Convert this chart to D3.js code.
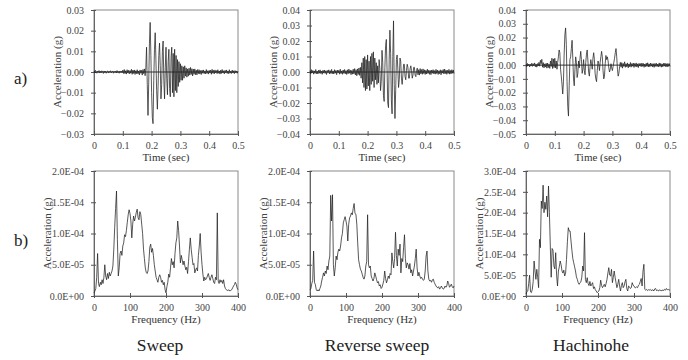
<!DOCTYPE html>
<html>
<head>
<meta charset="utf-8">
<script src="https://cdn.jsdelivr.net/npm/d3@7"></script>
<style>
  body { margin: 0; background: #fff; }
  svg { display: block; }
  svg text { font-family: "Liberation Serif", "Times New Roman", serif !important; }
</style>
</head>
<body>
<div id="chart"></div>
<script>
// sample spacing of the records
const timeStep = 0.0025; // s
const freqStep = 2.5;    // Hz

// a) acceleration time histories, in mg (0.001 g)
const sweepAcc = [
  0.5,-0.3,0.8,0.2,-0.6,0.4,-0.2,0.7,-0.5,0.3,
  -0.4,0.6,0.1,-0.7,0.5,-0.3,0.4,-0.6,0.2,0.5,
  -0.5,0.3,-0.2,0.6,-0.4,0.1,0.5,-0.6,0.3,-0.2,
  0.4,-0.5,0.7,-0.3,0.2,-0.6,0.5,-0.2,0.4,-0.4,
  0.9,-0.7,1.2,-0.8,0.6,-1.0,1.1,-0.5,0.8,-0.9,
  0.7,-0.6,1.3,-1.1,0.9,-0.7,1.0,-1.2,0.6,-0.8,
  1.1,-0.9,0.5,-1.4,1.0,-0.6,0.8,-1.5,1.2,-0.8,
  1.5,-1.8,2,12,-6,-21,-5,14,24,8,
  -10,-22,-25,-4,11,19,6,-9,-18,-7,
  8,14,3,-13,-6,10,15,-4,-13,2,
  12,-3,-11,5,11,-8,-12,7,12,-10,
  9,-12,11,-9,8,-10,6,-7,5,-5,
  4,-4,3,-4,2.5,-3,3,-2,2,-2.5,
  1.5,-2.0,1.8,-1.5,2.2,-1.2,1.6,-1.9,1.4,-1.1,
  1.5,-1.3,0.9,-1.4,1.2,-0.8,1.1,-1.0,0.7,-1.2,
  0.9,-0.6,1.0,-0.8,0.5,-0.9,1.2,-0.7,0.6,-1.0,
  0.8,-0.5,0.9,-1.1,1.3,-0.6,0.8,-0.9,1.0,-0.4,
  0.7,-0.8,1.1,-0.6,0.5,-1.0,0.9,-0.7,1.2,-0.5,
  0.6,-0.9,0.8,-0.4,1.0,-0.7,0.5,-0.8,1.1,-0.6,
  0.4,-0.7,0.9,-0.5,0.6,-0.8,0.7,-0.4,0.5,-0.6,
  0.3
];

const reverseAcc = [
  0.8,-1.2,1.5,-0.6,1.0,-1.4,0.7,-0.9,1.6,-1.1,
  0.5,-1.3,1.2,-0.8,1.4,-1.0,0.6,-1.5,1.1,-0.7,
  1.3,-0.9,0.8,-1.6,1.0,-0.5,1.4,-1.2,0.9,-1.0,
  1.7,-1.1,0.6,-1.3,1.5,-0.8,1.0,-1.7,1.2,-0.6,
  1.1,-1.4,1.8,-1.0,0.7,-1.5,1.3,-0.9,1.6,-1.2,
  0.9,-1.6,1.4,-1.1,1.9,-0.8,1.2,-1.7,1.0,-1.4,
  1.8,-1.2,2.2,-1.9,1.5,-2.4,2.0,-1.6,2.6,-2.2,
  3,-4,6,-7,9,-10,10,-12,8,-11,
  11,-9,7,-12,10,-8,12,-6,13,-10,
  9,-5,6,-8,4,-7,8,2,-12,-6,
  14,6,-15,-19,3,17,21,2,-20,-23,
  8,27,12,-18,-27,10,33,-8,-30,-12,
  8,11,2,-10,-5,9,7,-4,-8,-2,
  5,5,-3,-5,1,5,3,-4,-4,2,
  4,1,-4,-2,3,3,-2,-3,1,2.5,
  -1.8,1.5,-2.0,2.2,-1.2,1.6,-1.5,2.0,-1.0,1.4,
  -1.6,1.1,-1.3,1.8,-0.9,1.2,-1.5,1.0,-1.7,1.3,
  -0.8,1.5,-1.2,0.9,-1.4,1.7,-1.0,1.2,-1.6,0.8,
  -1.1,1.4,-1.8,1.0,-0.7,1.6,-1.3,1.9,-1.0,1.2,
  -1.5,1.1,-0.9,1.7,-1.4,1.0,-1.2,1.5,-0.8,1.3,
  -1.0
];

const hachinoheAcc = [
  0.5,-1.0,1.2,-0.4,0.8,-1.3,0.6,-0.7,1.4,-0.9,
  1.0,-0.5,1.6,-1.2,0.7,-1.5,1.1,-0.6,2.0,-0.8,
  3.5,1.0,4.2,-1.5,1.8,-2.0,0.9,-1.4,1.3,-2.2,
  1.5,-1.8,0.6,-2.4,3.0,-1.0,5.0,-2.5,4.5,-1.8,
  5,-2,3,-3,2,6,11,9,-3,-8,
  -14,-21,-12,8,22,27,15,-12,-30,-37,
  -15,4,6,12,18,5,-10,-15,-3,6,
  2,-9,-6,3,-2,5,10,4,-6,-3,
  4,-4,-7,2,8,11,3,-5,-8,-1,
  4,1,-3,5,9,4,-6,-10,-12,-4,
  3,1,-4,2,6,10,6,-4,-10,-8,
  1,7,4,6,3,-2,-5,-3,1,-2,
  -4,-1,2,5,9,12,6,-3,-8,-6,
  -1,2,-1.5,1.8,-2.2,1.2,-1.0,2.4,-1.6,1.0,
  -1.3,1.6,-2.0,0.8,-1.2,1.9,-1.5,1.1,-0.8,1.5,
  -1.7,1.2,-1.0,1.6,-1.4,0.9,-1.8,1.3,-0.7,1.1,
  -1.2,1.5,-0.9,1.2,-1.6,0.8,-1.1,1.4,-1.0,1.7,
  -1.3,0.9,-1.2,1.5,-0.8,1.1,-1.4,1.0,-1.6,1.2,
  -0.9,1.4,-1.1,0.8,-1.3,1.6,-1.0,1.2,-1.5,0.9,
  -1.2,1.3,-0.8,1.5,-1.1,1.0,-1.4,1.2,-0.9,1.1,
  -1.0
];

// b) Fourier amplitude spectra, in units of 1e-5 g
const sweepSpec = [
  0.5,0.8,1.2,3.0,6.8,2.0,1.5,2.2,1.8,2.6,
  2.0,3.0,5.0,3.2,2.6,3.6,2.8,3.8,3.2,3.6,
  4.0,4.8,7.5,11.0,14.0,16.8,9.0,3.2,4.5,6.8,
  7.2,6.5,8.0,8.5,9.8,9.5,10.5,11.8,13.0,13.8,
  13.2,12.0,9.3,11.5,12.8,12.0,12.6,13.4,13.9,12.5,
  12.2,13.5,13.0,11.5,10.0,7.5,6.0,4.5,3.8,3.6,
  4.0,5.5,7.8,8.3,7.0,7.6,6.5,5.0,4.0,3.0,
  2.6,2.2,3.0,3.4,3.0,2.2,2.5,1.8,2.2,1.0,
  0.5,1.5,2.2,3.5,3.0,4.5,6.0,5.0,5.5,4.5,
  6.8,8.5,9.3,12.0,10.5,8.0,5.3,6.5,5.8,5.0,
  5.6,4.8,4.2,4.6,3.6,5.5,7.5,9.3,7.5,6.2,
  5.0,5.2,3.7,4.2,4.5,4.0,6.5,8.0,10.0,7.0,
  5.0,3.5,2.4,3.0,2.6,2.8,3.2,3.6,3.0,2.5,
  3.0,3.4,2.8,2.2,2.0,3.0,2.6,13.3,2.4,2.0,
  2.6,2.2,2.5,2.0,2.6,1.6,1.2,1.0,0.9,0.9,
  1.0,0.8,0.9,1.0,1.3,1.6,1.8,2.2,1.9,1.3,
  1.0
];

const reverseSpec = [
  1.0,1.2,2.0,2.5,7.2,2.2,1.8,1.0,0.8,1.0,
  0.8,1.2,1.6,2.4,3.0,3.7,3.2,4.0,3.6,4.8,
  4.2,5.6,6.4,16.1,12.0,16.2,5.0,3.2,4.5,6.4,
  5.8,7.0,7.5,7.2,8.0,9.3,10.0,11.7,12.2,12.7,
  12.0,11.2,8.8,11.5,12.5,12.8,13.3,13.0,14.0,14.8,
  13.2,13.1,11.5,8.5,5.8,5.0,4.3,4.0,3.5,3.0,
  2.7,3.2,4.8,5.5,13.0,5.0,4.5,4.8,3.2,2.8,
  2.4,2.8,3.7,3.2,2.6,2.1,2.3,1.6,1.8,1.2,
  1.4,1.9,2.5,4.0,2.8,2.1,2.6,3.2,2.8,3.6,
  3.4,6.9,5.5,4.5,6.0,10.2,6.5,4.8,7.5,6.5,
  8.3,3.7,6.0,5.5,7.8,9.8,6.0,4.5,5.3,5.0,
  4.3,5.2,3.7,4.2,3.2,4.0,4.8,6.0,7.5,4.5,
  3.2,3.8,3.2,2.8,3.0,2.7,2.5,2.7,4.0,6.4,
  7.2,4.0,2.7,2.4,2.5,2.2,2.6,2.7,2.2,1.9,
  1.6,1.4,1.3,1.5,1.1,1.3,1.6,1.3,1.1,1.2,
  1.6,1.4,1.6,2.4,2.0,1.4,1.6,1.9,1.5,1.3,
  1.6
];

const hachinoheSpec = [
  0.5,1.0,1.2,3.0,5.0,1.0,0.8,1.6,3.5,8.4,
  6.0,4.0,6.4,4.5,2.0,13.6,11.6,22.8,21.0,26.6,
  20.0,22.5,20.8,24.0,19.0,26.4,20.0,12.0,4.5,11.4,
  11.0,7.2,6.5,10.4,5.0,2.4,6.0,7.0,8.4,7.5,
  6.0,5.5,6.2,4.8,5.5,8.8,13.0,16.4,15.6,15.6,
  13.2,11.0,9.0,8.0,7.0,6.0,4.6,4.0,3.2,2.8,
  3.2,3.4,4.5,7.2,6.0,15.2,4.0,3.2,4.4,3.0,
  2.5,3.5,2.4,2.8,3.2,1.8,2.2,1.5,1.2,0.8,
  1.0,1.2,2.0,3.8,2.5,2.0,2.4,2.8,2.2,3.0,
  4.0,5.5,6.8,5.0,4.8,6.4,3.2,4.5,6.0,4.5,
  3.2,2.0,2.8,4.0,2.4,1.2,2.5,3.2,2.0,2.4,
  3.4,4.0,1.8,1.2,2.4,2.2,1.8,2.0,3.2,2.6,
  2.4,2.0,2.0,2.2,2.0,2.6,2.8,3.5,4.2,2.4,
  6.0,7.6,1.6,1.4,1.6,1.3,1.5,1.4,1.6,1.3,
  1.4,1.5,1.2,1.7,1.8,1.3,1.4,1.2,1.5,1.3,
  1.4,1.2,1.5,1.3,1.6,1.4,1.8,1.5,1.6,1.4,
  1.5
];

const timeTicks = [0, 0.1, 0.2, 0.3, 0.4, 0.5];
const freqTicks = [0, 100, 200, 300, 400];
const columnTitles = ['Sweep', 'Reverse sweep', 'Hachinohe'];

const width = 688;
const height = 360;
const serif = '"Liberation Serif", "Times New Roman", serif';

const svg = d3.select('#chart')
  .append('svg')
  .attr('width', width)
  .attr('height', height)
  .attr('font-family', serif);

const cols = [
  { left: 94, right: 238, title: 160 },
  { left: 310, right: 454, title: 377 },
  { left: 526, right: 670, title: 591 },
];
const rows = [
  { top: 10, bottom: 134 },
  { top: 171, bottom: 296 },
];

const expFormat = (v) => v.toExponential(1).toUpperCase().replace(/E([+-])(\d)$/, 'E$10$2');

const panels = [
  { col: 0, row: 0, values: sweepAcc, unit: 1e-3, step: timeStep, xDomain: [0, 0.5], xTicks: timeTicks, yDomain: [-0.03, 0.03], yStep: 0.01, yFormat: d3.format('.2f'), xLabel: 'Time (sec)' },
  { col: 1, row: 0, values: reverseAcc, unit: 1e-3, step: timeStep, xDomain: [0, 0.5], xTicks: timeTicks, yDomain: [-0.04, 0.04], yStep: 0.01, yFormat: d3.format('.2f'), xLabel: 'Time (sec)' },
  { col: 2, row: 0, values: hachinoheAcc, unit: 1e-3, step: timeStep, xDomain: [0, 0.5], xTicks: timeTicks, yDomain: [-0.05, 0.04], yStep: 0.01, yFormat: d3.format('.2f'), xLabel: 'Time (sec)' },
  { col: 0, row: 1, values: sweepSpec, unit: 1e-5, step: freqStep, xDomain: [0, 400], xTicks: freqTicks, yDomain: [0, 2e-4], yStep: 5e-5, yFormat: expFormat, xLabel: 'Frequency (Hz)' },
  { col: 1, row: 1, values: reverseSpec, unit: 1e-5, step: freqStep, xDomain: [0, 400], xTicks: freqTicks, yDomain: [0, 2e-4], yStep: 5e-5, yFormat: expFormat, xLabel: 'Frequency (Hz)' },
  { col: 2, row: 1, values: hachinoheSpec, unit: 1e-5, step: freqStep, xDomain: [0, 400], xTicks: freqTicks, yDomain: [0, 3e-4], yStep: 5e-5, yFormat: expFormat, xLabel: 'Frequency (Hz)' },
];

function drawPanel(p) {
  const c = cols[p.col];
  const r = rows[p.row];
  const x = d3.scaleLinear().domain(p.xDomain).range([c.left, c.right]);
  const y = d3.scaleLinear().domain(p.yDomain).range([r.bottom, r.top]);
  const n = Math.round((p.yDomain[1] - p.yDomain[0]) / p.yStep);
  const yTicks = d3.range(n + 1).map((i) => p.yDomain[0] + i * p.yStep);

  const g = svg.append('g');

  g.append('rect')
    .attr('x', c.left)
    .attr('y', r.top)
    .attr('width', c.right - c.left)
    .attr('height', r.bottom - r.top)
    .attr('fill', 'none')
    .attr('stroke', '#8a8a8a')
    .attr('stroke-width', 1);

  const yAxis = g.append('g')
    .attr('transform', `translate(${c.left},0)`)
    .call(d3.axisLeft(y).tickValues(yTicks).tickFormat(p.yFormat).tickSize(3).tickPadding(7));
  yAxis.selectAll('.tick line').attr('x1', 2);

  const xAxis = g.append('g')
    .attr('transform', `translate(0,${r.bottom})`)
    .call(d3.axisBottom(x).tickValues(p.xTicks).tickFormat(d3.format('')).tickSize(2).tickPadding(6));
  xAxis.selectAll('.tick line').attr('y1', -3);

  [yAxis, xAxis].forEach((a) => {
    a.attr('font-family', serif).attr('font-size', 10);
    a.select('.domain').attr('stroke', '#666');
    a.selectAll('.tick line').attr('stroke', '#555');
    a.selectAll('.tick text').attr('fill', '#444');
  });

  if (p.yDomain[0] < 0) {
    g.append('line')
      .attr('x1', c.left)
      .attr('x2', c.right)
      .attr('y1', y(0))
      .attr('y2', y(0))
      .attr('stroke', '#000')
      .attr('stroke-width', 0.8);
  }

  const line = d3.line()
    .x((d, i) => x(i * p.step))
    .y((d) => y(d * p.unit));

  g.append('path')
    .datum(p.values)
    .attr('fill', 'none')
    .attr('stroke', '#222')
    .attr('stroke-width', 0.75)
    .attr('stroke-linejoin', 'round')
    .attr('d', line);

  // axis titles
  g.append('text')
    .attr('transform', `translate(${c.left - (p.row === 0 ? 37 : 47)},${(r.top + r.bottom) / 2}) rotate(-90)`)
    .attr('text-anchor', 'middle')
    .attr('dominant-baseline', 'central')
    .attr('fill', '#444')
    .attr('font-size', 11)
    .text('Acceleration (g)');

  g.append('text')
    .attr('x', (c.left + c.right) / 2)
    .attr('y', r.bottom + 27)
    .attr('text-anchor', 'middle')
    .attr('fill', '#333')
    .attr('font-size', 11)
    .text(p.xLabel);
}

panels.forEach(drawPanel);

// row markers
svg.selectAll('.row-label')
  .data(['a)', 'b)'])
  .join('text')
  .attr('class', 'row-label')
  .attr('x', 14)
  .attr('y', (d, i) => (i === 0 ? 84 : 246))
  .attr('fill', '#222')
  .attr('font-size', 17)
  .text((d) => d);

// column titles
svg.selectAll('.col-title')
  .data(columnTitles)
  .join('text')
  .attr('class', 'col-title')
  .attr('x', (d, i) => cols[i].title)
  .attr('y', 351)
  .attr('text-anchor', 'middle')
  .attr('fill', '#222')
  .attr('font-size', 17.5)
  .text((d) => d);
</script>
</body>
</html>
